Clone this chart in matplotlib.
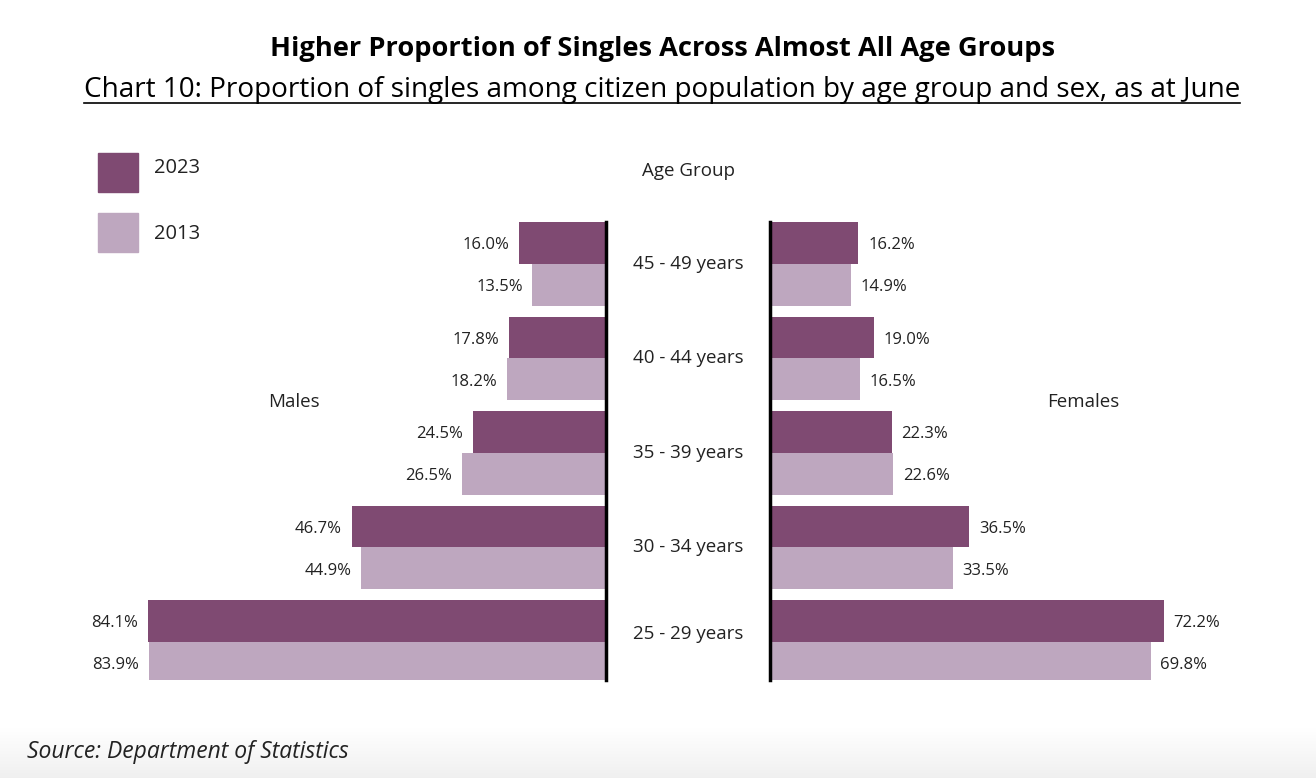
import matplotlib.pyplot as plt
import matplotlib.transforms as mtransforms
from matplotlib.lines import Line2D
from matplotlib.patches import Rectangle
import numpy as np

plt.rcParams['font.family'] = ['Open Sans', 'DejaVu Sans']

# data (bottom to top)
age_groups = ["25 - 29 years", "30 - 34 years", "35 - 39 years", "40 - 44 years", "45 - 49 years"]
males_2023 = [84.1, 46.7, 24.5, 17.8, 16.0]
males_2013 = [83.9, 44.9, 26.5, 18.2, 13.5]
females_2023 = [72.2, 36.5, 22.3, 19.0, 16.2]
females_2013 = [69.8, 33.5, 22.6, 16.5, 14.9]
years = ["2023", "2013"]

c_new = "#7f4a72"
c_old = "#bea7bf"

W, H = 1316, 778
fig = plt.figure(figsize=(W / 100, H / 100), dpi=100)

# soft grey band at the bottom
bg = fig.add_axes([0, 0, 1, 50 / H], zorder=-5)
shade = np.linspace(0.94, 1.0, 60)
grad = np.dstack([shade, shade, shade]).reshape(-1, 1, 3)
bg.imshow(grad, aspect="auto", extent=[0, 1, 0, 1], origin="lower")
bg.axis("off")

ax_bottom, ax_top = 680, 222
ax_m = fig.add_axes([130 / W, 1 - ax_bottom / H, (606 - 130) / W, (ax_bottom - ax_top) / H])
ax_f = fig.add_axes([770 / W, 1 - ax_bottom / H, (1250 - 770) / W, (ax_bottom - ax_top) / H])

y = np.arange(len(age_groups))
h = 0.444

ax_m.barh(y + h / 2, males_2023, height=h, color=c_new)
ax_m.barh(y - h / 2, males_2013, height=h, color=c_old)
ax_f.barh(y + h / 2, females_2023, height=h, color=c_new)
ax_f.barh(y - h / 2, females_2013, height=h, color=c_old)

ax_m.set_xlim(87.4, 0)
ax_f.set_xlim(0, 88.0)
for ax in (ax_m, ax_f):
    ax.set_ylim(-0.402, 4.444)
    ax.set_xticks([])
    ax.set_yticks([])
    for s in ax.spines.values():
        s.set_visible(False)
ax_m.spines["right"].set_visible(True)
ax_m.spines["right"].set_linewidth(2.5)
ax_f.spines["left"].set_visible(True)
ax_f.spines["left"].set_linewidth(2.5)

lab_kw = dict(fontsize=12, color="#222222", va="center", textcoords="offset points")
for i in range(len(age_groups)):
    ax_m.annotate(f"{males_2023[i]:.1f}%", (males_2023[i], y[i] + h / 2), xytext=(-7, -1.5), ha="right", **lab_kw)
    ax_m.annotate(f"{males_2013[i]:.1f}%", (males_2013[i], y[i] - h / 2), xytext=(-7, -1.5), ha="right", **lab_kw)
    ax_f.annotate(f"{females_2023[i]:.1f}%", (females_2023[i], y[i] + h / 2), xytext=(7, -1.5), ha="left", **lab_kw)
    ax_f.annotate(f"{females_2013[i]:.1f}%", (females_2013[i], y[i] - h / 2), xytext=(7, -1.5), ha="left", **lab_kw)

tr = mtransforms.blended_transform_factory(fig.transFigure, ax_m.transData)
for i, g in enumerate(age_groups):
    yy = y[i] if i > 0 else y[i] + 0.08
    fig.text(688 / W, yy, g, transform=tr, ha="center", va="center", fontsize=13.5, color="#222222")

fig.text(688 / W, 1 - 171 / H, "Age Group", ha="center", va="center", fontsize=13.5, color="#222222")
fig.text(294 / W, 1 - 402 / H, "Males", ha="center", va="center", fontsize=13.5, color="#222222")
fig.text(1083 / W, 1 - 402 / H, "Females", ha="center", va="center", fontsize=13.5, color="#222222")

# legend
for j, (yr, col) in enumerate(zip(years, [c_new, c_old])):
    top = 153 + j * 60
    fig.add_artist(Rectangle((98 / W, 1 - (top + 39) / H), 40 / W, 39 / H,
                             transform=fig.transFigure, color=col))
    fig.text(154 / W, 1 - (168 + j * 66) / H, yr, ha="left", va="center", fontsize=14.5, color="#222222")

fig.text(662 / W, 1 - 49 / H, "Higher Proportion of Singles Across Almost All Age Groups",
         ha="center", va="center", fontsize=19.6, fontweight="bold", color="black")
sub = fig.text(662 / W, 1 - 90 / H,
               "Chart 10: Proportion of singles among citizen population by age group and sex, as at June",
               ha="center", va="center", fontsize=20.1, color="black")

fig.text(27 / W, 1 - 752 / H, "Source: Department of Statistics", ha="left", va="center",
         fontsize=16.5, fontstyle="italic", color="#222222")

# underline the subtitle
fig.canvas.draw()
bb = sub.get_window_extent().transformed(fig.transFigure.inverted())
fig.add_artist(Line2D([bb.x0, bb.x1], [bb.y0 + 1 / H, bb.y0 + 1 / H], transform=fig.transFigure,
                      color="black", linewidth=1.2))

fig.savefig("out.png", dpi=100)
